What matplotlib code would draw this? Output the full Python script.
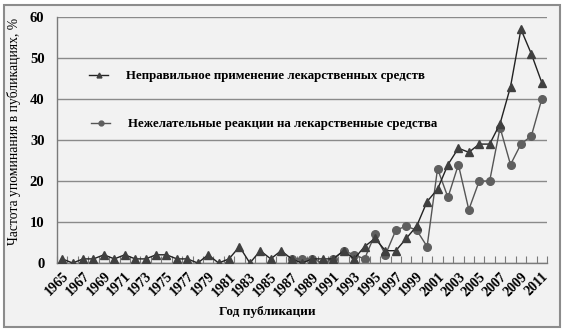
import numpy as np
import matplotlib
matplotlib.use("Agg")
import matplotlib.pyplot as plt
from matplotlib.patches import Rectangle
from matplotlib.lines import Line2D

plt.rcParams['font.family'] = ['Liberation Serif', 'DejaVu Serif']

############# DATA

years = list(range(1965, 2012))

# misuse of medicines, % of publications
misuse = [1, 0, 1, 1, 2, 1, 2, 1, 1, 2, 2, 1, 1, 0, 2, 0, 1, 4, 0, 3, 1, 3,
          1, 0, 1, 1, 1, 3, 1, 4, 6, 3, 3, 6, 9, 15, 18, 24, 28, 27, 29, 29,
          34, 43, 57, 51, 44]

# adverse drug reactions, % of publications (series starts in 1987)
adverse = [np.nan] * 22 + [1, 1, 1, 0, 1, 3, 2, 1, 7, 2, 8, 9, 8, 4, 23, 16,
                           24, 13, 20, 20, 33, 24, 29, 31, 40]

label_misuse = "Неправильное применение лекарственных средств"
label_adverse = "Нежелательные реакции на лекарственные средства"

############# PLOT

bg = "#f2f2f2"
fig = plt.figure(figsize=(5.64, 3.31), dpi=100, facecolor="white")
# framed grey background of the chart
fig.patches.append(Rectangle((4 / 564, 4 / 331), 556 / 564, 322 / 331,
                             transform=fig.transFigure, facecolor=bg,
                             edgecolor="#8c8c8c", linewidth=1.5, zorder=-5))

ax = fig.add_axes([57 / 564, 1 - 263 / 331, 490 / 564, 246 / 331])
ax.set_facecolor(bg)

x = np.arange(len(years))
ax.plot(x, misuse, color="#222222", lw=1.0, marker="^", ms=5.5,
        mfc="#404040", mec="#404040", zorder=3)
ax.plot(x, adverse, color="#555555", lw=1.0, marker="o", ms=5.5,
        mfc="#5f5f5f", mec="#5f5f5f", zorder=2)

ax.set_xlim(-0.5, len(years) - 0.5)
ax.set_ylim(0, 60)
ax.set_yticks(range(0, 61, 10))
ax.yaxis.grid(True, color="#8a8a8a", lw=1.0)
ax.set_axisbelow(True)

# every year gets a tick mark, only odd years get a label
ax.set_xticks(x[::2])
ax.set_xticklabels([str(y) for y in years[::2]], rotation=45, ha="right",
                   rotation_mode="anchor", fontsize=10, fontweight="bold")
ax.set_xticks(np.arange(-0.5, len(years), 1), minor=True)
ax.tick_params(axis="x", which="major", length=0, pad=5)
ax.tick_params(axis="x", which="minor", direction="in", length=5,
               color="#7a7a7a", width=0.8)
ax.tick_params(axis="y", length=0, pad=9, labelsize=10.5)
for t in ax.get_yticklabels():
    t.set_fontweight("bold")

for side in ["top", "right"]:
    ax.spines[side].set_visible(False)
for side in ["left", "bottom"]:
    ax.spines[side].set_color("#7a7a7a")
    ax.spines[side].set_linewidth(1.0)

ax.set_ylabel("Частота упоминания в публикациях, %", fontsize=9.8)
ax.yaxis.set_label_coords(-0.073, 0.533)
ax.set_xlabel("Год публикации", fontsize=9.5, fontweight="bold")
ax.xaxis.set_label_coords(0.43, -0.175)

# two legend rows, placed separately
h1 = Line2D([], [], color="#222222", lw=1.0, marker="^", ms=3.5,
            mfc="#404040", mec="#404040")
h2 = Line2D([], [], color="#555555", lw=1.0, marker="o", ms=3.5,
            mfc="#5f5f5f", mec="#5f5f5f")
leg1 = ax.legend([h1], [label_misuse], loc="center left",
                 bbox_to_anchor=((89 - 57) / 490, (263 - 76) / 246),
                 frameon=False, borderpad=0, borderaxespad=0,
                 handlelength=1.5, handletextpad=1.35,
                 prop={"weight": "bold", "size": 9.3})
ax.add_artist(leg1)
ax.legend([h2], [label_adverse], loc="center left",
          bbox_to_anchor=((91 - 57) / 490, (263 - 124) / 246),
          frameon=False, borderpad=0, borderaxespad=0,
          handlelength=1.5, handletextpad=1.35,
          prop={"weight": "bold", "size": 9.3})

fig.savefig("out.png", dpi=100, facecolor="white")
